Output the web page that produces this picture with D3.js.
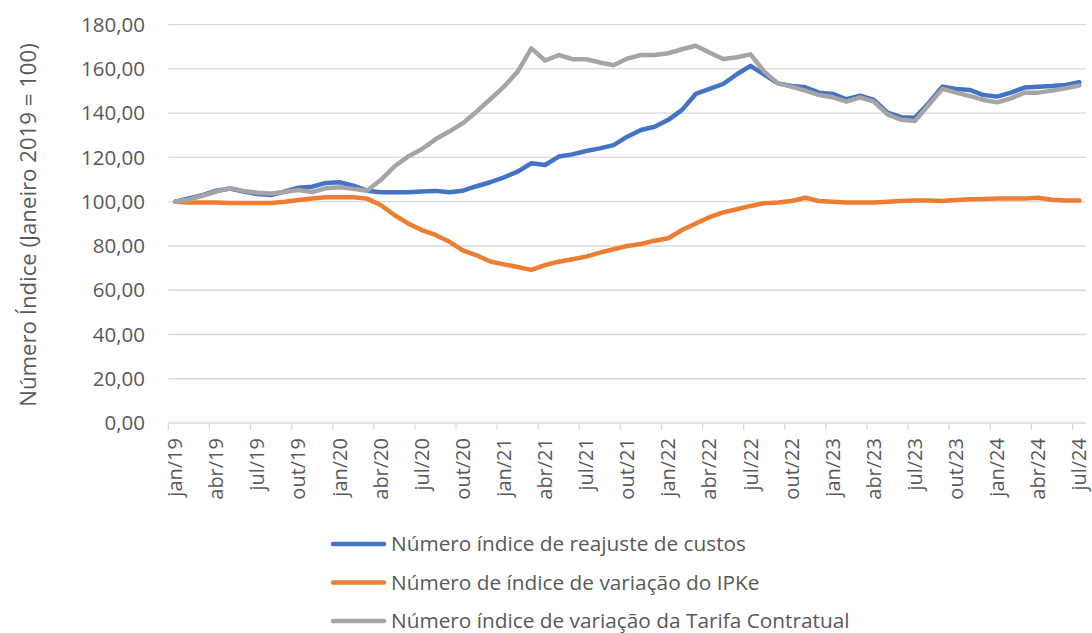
<!DOCTYPE html>
<html>
<head>
<meta charset="utf-8">
<script src="https://cdn.jsdelivr.net/npm/d3@7"></script>
<style>
  body { margin: 0; background: #fff; }
  svg text { font-family: "Open Sans", sans-serif; fill: #595959; }
</style>
</head>
<body>
<svg width="1092" height="633"></svg>
<script>
var svg = d3.select('svg');

// months jan/19 .. jul/24
var mesNomes = ["jan","fev","mar","abr","mai","jun","jul","ago","set","out","nov","dez"];
var meses = [];
for (var a = 19; a <= 24; a++) {
    for (var m = 0; m < 12; m++) {
        if (a == 24 && m > 6) break;
        meses.push(mesNomes[m] + "/" + a);
    }
}

var custos = [100,101.5,103,105,106,104.6,103.5,103,104.6,106.3,106.8,108.5,108.8,107.3,105,104.3,104.3,104.3,104.6,104.9,104.3,105,107,108.8,
    111,113.6,117.4,116.6,120.4,121.4,122.9,124.1,125.6,129.4,132.4,133.9,137,141.5,148.7,151,153.2,157.6,161.4,157.5,153.5,152.3,151.7,149.3,
    148.7,146.3,147.9,146,140.3,138.2,138,144.5,152,151,150.5,148.2,147.5,149.3,151.6,152,152.3,152.8,154];

var ipke = [100,99.7,99.6,99.6,99.4,99.4,99.4,99.4,100,100.8,101.5,102,102,102,101.4,98.5,94,90.2,87.2,85,82,78,75.8,73,
    71.7,70.5,69.2,71.4,72.9,74,75.2,77,78.5,80,80.9,82.4,83.5,87.2,90.2,93,95.2,96.6,98.1,99.3,99.7,100.3,101.8,100.3,
    100,99.7,99.7,99.7,100,100.3,100.5,100.5,100.3,100.8,101.1,101.2,101.5,101.5,101.4,101.8,100.9,100.6,100.5];

var tarifa = [100,101,102.7,104.6,106.1,104.9,104.1,103.7,104.4,105.3,104.4,106.1,106.5,105.8,105,109.8,115.9,120.4,123.7,128.2,131.7,135.5,140.7,146.3,
    152,158.8,169.3,163.8,166.3,164.4,164.4,162.9,161.7,164.7,166.3,166.3,167.1,168.9,170.5,167.4,164.5,165.3,166.6,158.8,153.5,152,150.2,148.2,
    147.2,145.2,147.2,145.2,139.5,137,136.5,143.7,151,149.3,147.8,146,144.9,146.7,149.3,149.3,150.2,151.3,152.5];

var yTicks = [0,20,40,60,80,100,120,140,160,180];

var series = [
    {nome: "Número índice de reajuste de custos", valores: custos, cor: "#4472C4"},
    {nome: "Número de índice de variação do IPKe", valores: ipke, cor: "#ED7D31"},
    {nome: "Número índice de variação da Tarifa Contratual", valores: tarifa, cor: "#A5A5A5"}
];

var ptBR = d3.formatLocale({decimal: ",", thousands: ".", grouping: [3], currency: ["R$", ""]});
var fmt = ptBR.format(".2f");

var ScaleX = d3.scaleBand().domain(meses).range([168.3, 1086.2]).paddingInner(0).paddingOuter(0);
var ScaleY = d3.scaleLinear().domain([0,180]).range([423, 24.7]);

// gridlines
svg.append('g').selectAll('line')
    .data(yTicks.filter(function(d){ return d > 0; }))
    .enter().append('line')
    .attr('x1', 168.3).attr('x2', 1086.2)
    .attr('y1', function(d){ return ScaleY(d); })
    .attr('y2', function(d){ return ScaleY(d); })
    .attr('stroke', '#D9D9D9').attr('stroke-width', 1.3);

// y labels
svg.append('g').selectAll('text')
    .data(yTicks)
    .enter().append('text')
    .attr('x', 145)
    .attr('y', function(d){ return ScaleY(d); })
    .attr('dy', '0.35em')
    .attr('text-anchor', 'end')
    .style('font-size', '20.5px')
    .text(function(d){ return fmt(d); });

// x axis line + ticks
svg.append('line')
    .attr('x1', 168.3).attr('x2', 1086.2)
    .attr('y1', ScaleY(0)).attr('y2', ScaleY(0))
    .attr('stroke', '#D9D9D9').attr('stroke-width', 1.3);

var marcados = meses.filter(function(d, i){ return i % 3 == 0; });

svg.append('g').selectAll('line')
    .data(marcados)
    .enter().append('line')
    .attr('x1', function(d){ return ScaleX(d); })
    .attr('x2', function(d){ return ScaleX(d); })
    .attr('y1', ScaleY(0)).attr('y2', ScaleY(0) + 7)
    .attr('stroke', '#D9D9D9').attr('stroke-width', 1.3);

svg.append('g').selectAll('text')
    .data(marcados)
    .enter().append('text')
    .attr('text-anchor', 'end')
    .attr('dy', '0.35em')
    .style('font-size', '20px')
    .attr('transform', function(d){
        return 'translate(' + (ScaleX(d) + ScaleX.bandwidth()/2) + ',438)rotate(-90)';
    })
    .text(function(d){ return d; });

// y title
svg.append('text')
    .text('Número Índice (Janeiro 2019 = 100)')
    .attr('text-anchor', 'middle')
    .style('font-size', '22.2px')
    .attr('transform', 'translate(36,225)rotate(-90)');

// lines
var linha = d3.line()
    .x(function(d, i){ return ScaleX(meses[i]) + ScaleX.bandwidth()/2; })
    .y(function(d){ return ScaleY(d); });

svg.append('g').selectAll('path')
    .data(series)
    .enter().append('path')
    .attr('d', function(s){ return linha(s.valores); })
    .attr('fill', 'none')
    .attr('stroke', function(s){ return s.cor; })
    .attr('stroke-width', 4.5)
    .attr('stroke-linejoin', 'round')
    .attr('stroke-linecap', 'round');

// legend
var leg = svg.append('g').selectAll('g')
    .data(series)
    .enter().append('g')
    .attr('transform', function(d, i){ return 'translate(0,' + (544 + i*38.5) + ')'; });

leg.append('line')
    .attr('x1', 333).attr('x2', 384)
    .attr('stroke', function(d){ return d.cor; })
    .attr('stroke-width', 4.5)
    .attr('stroke-linecap', 'round');

leg.append('text')
    .attr('x', 391)
    .attr('dy', '0.35em')
    .style('font-size', '20.8px')
    .text(function(d){ return d.nome; });
</script>
</body>
</html>
